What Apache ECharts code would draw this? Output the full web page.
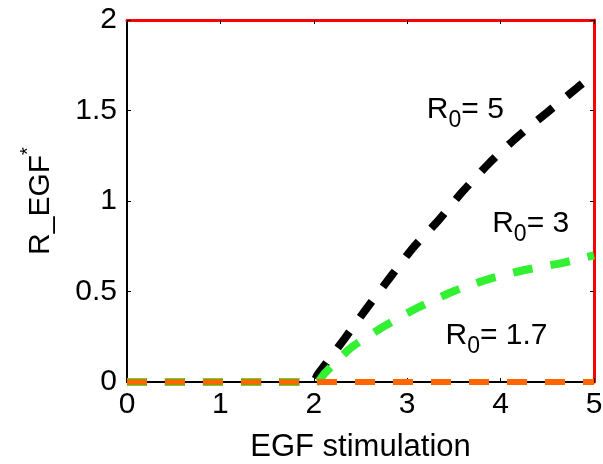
<!DOCTYPE html>
<html>
<head>
<meta charset="utf-8">
<script src="https://cdn.jsdelivr.net/npm/echarts@6/dist/echarts.min.js"></script>
<style>
  html, body { margin: 0; padding: 0; background: #fff; }
  #chart { width: 603px; height: 464px; }
</style>
</head>
<body>
<div id="chart"></div>
<script>
// values
const xR5 = [0, 1.99, 2.04, 2.33, 2.57, 2.82, 3.06, 3.33, 3.59, 3.88, 4.17, 4.5, 4.83, 5.0];
const yR5 = [0, 0, 0.04, 0.24, 0.41, 0.58, 0.74, 0.89, 1.05, 1.21, 1.35, 1.49, 1.63, 1.70];
const xR3 = [0, 2.03, 2.12, 2.4, 2.76, 3.11, 3.49, 3.88, 4.27, 4.68, 5.0];
const yR3 = [0, 0, 0.05, 0.19, 0.31, 0.41, 0.50, 0.57, 0.62, 0.66, 0.70];
const xR17 = [0, 5];
const yR17 = [0, 0];

const xTicks = [0, 1, 2, 3, 4, 5];
const yTicks = [0, 0.5, 1, 1.5, 2];

// curve annotations (R0 value, anchor in data coords)
const r0Values = ['5', '3', '1.7'];
const r0AnchorX = [3.21, 3.91, 3.41];
const r0AnchorY = [1.49, 0.86, 0.24];

const pairs = (xs, ys) => xs.map((x, i) => [x, ys[i]]);

const font = 'Liberation Sans';

const lineCommon = {show: true, onZero: false, lineStyle: {color: '#000', width: 2}};
const lineMirror = {show: true, onZero: false, lineStyle: {color: '#ff0000', width: 3}};
const tickCommon = {show: true, inside: true, length: 4, lineStyle: {color: '#000', width: 1}};

const dashLine = (color, width) => ({
    color, width, type: [20, 18], cap: 'butt',
});

option = {
    backgroundColor: 'white',
    animation: false,
    grid: {
        left: 127,
        right: 9,
        top: 20,
        bottom: 82,
        outerBoundsMode: 'none',
    },
    xAxis: [{
        type: 'value',
        min: 0, max: 5, interval: 1,
        position: 'bottom',
        axisLine: lineCommon,
        axisTick: tickCommon,
        splitLine: {show: false},
        axisLabel: {
            color: '#000', fontSize: 30, fontFamily: font, margin: 8,
            formatter: v => xTicks.includes(v) ? String(v) : '',
        },
        name: 'EGF stimulation',
        nameLocation: 'middle',
        nameGap: 50,
        nameTextStyle: {color: '#000', fontSize: 31, fontFamily: font},
    }, {
        type: 'value',
        min: 0, max: 5, interval: 1,
        position: 'top',
        axisLine: lineMirror,
        axisTick: tickCommon,
        splitLine: {show: false},
        axisLabel: {show: false},
    }],
    yAxis: [{
        type: 'value',
        min: 0, max: 2, interval: 0.5,
        position: 'left',
        axisLine: lineCommon,
        axisTick: tickCommon,
        splitLine: {show: false},
        axisLabel: {
            color: '#000', fontSize: 30, fontFamily: font, margin: 10,
            formatter: v => yTicks.includes(v) ? String(v) : '',
        },
        name: '{a|R_EGF}{s|*}',
        nameLocation: 'middle',
        nameGap: 71,
        nameRotate: 90,
        nameTextStyle: {
            color: '#000', fontFamily: font,
            rich: {
                a: {fontSize: 30, fontFamily: font, color: '#000', lineHeight: 38, verticalAlign: 'bottom'},
                s: {fontSize: 20, fontFamily: font, color: '#000', lineHeight: 38, verticalAlign: 'top'},
            },
        },
    }, {
        type: 'value',
        min: 0, max: 2, interval: 0.5,
        position: 'right',
        axisLine: lineMirror,
        axisTick: tickCommon,
        splitLine: {show: false},
        axisLabel: {show: false},
    }],
    series: [
        {
            name: 'R0 = 5',
            type: 'line',
            data: pairs(xR5, yR5),
            symbol: 'none',
            smooth: 0.2,
            lineStyle: dashLine('#000000', 8),
            z: 2,
        }, {
            name: 'R0 = 3',
            type: 'line',
            data: pairs(xR3, yR3),
            symbol: 'none',
            smooth: 0.2,
            lineStyle: dashLine('#33f033', 8),
            z: 3,
        }, {
            name: 'R0 = 1.7',
            type: 'line',
            data: pairs(xR17, yR17),
            symbol: 'none',
            lineStyle: dashLine('#ff6600', 6),
            z: 4,
        }, {
            name: 'labels',
            type: 'scatter',
            symbolSize: 0,
            silent: true,
            z: 5,
            itemStyle: {opacity: 1},
            data: r0Values.map((v, i) => ({value: [r0AnchorX[i], r0AnchorY[i]], name: v})),
            label: {
                show: true,
                position: 'right',
                distance: 0,
                color: '#000',
                formatter: p => '{r|R}{s|0}{r|= ' + p.name + '}',
                rich: {
                    r: {fontSize: 30, fontFamily: font, color: '#000', lineHeight: 40, verticalAlign: 'top', padding: [2, 0, 0, 0]},
                    s: {fontSize: 23, fontFamily: font, color: '#000', lineHeight: 40, verticalAlign: 'bottom'},
                },
            },
        }
    ]
};

dom = document.getElementById('chart');
chart = echarts.init(dom);
chart.setOption(option);
</script>
</body>
</html>
